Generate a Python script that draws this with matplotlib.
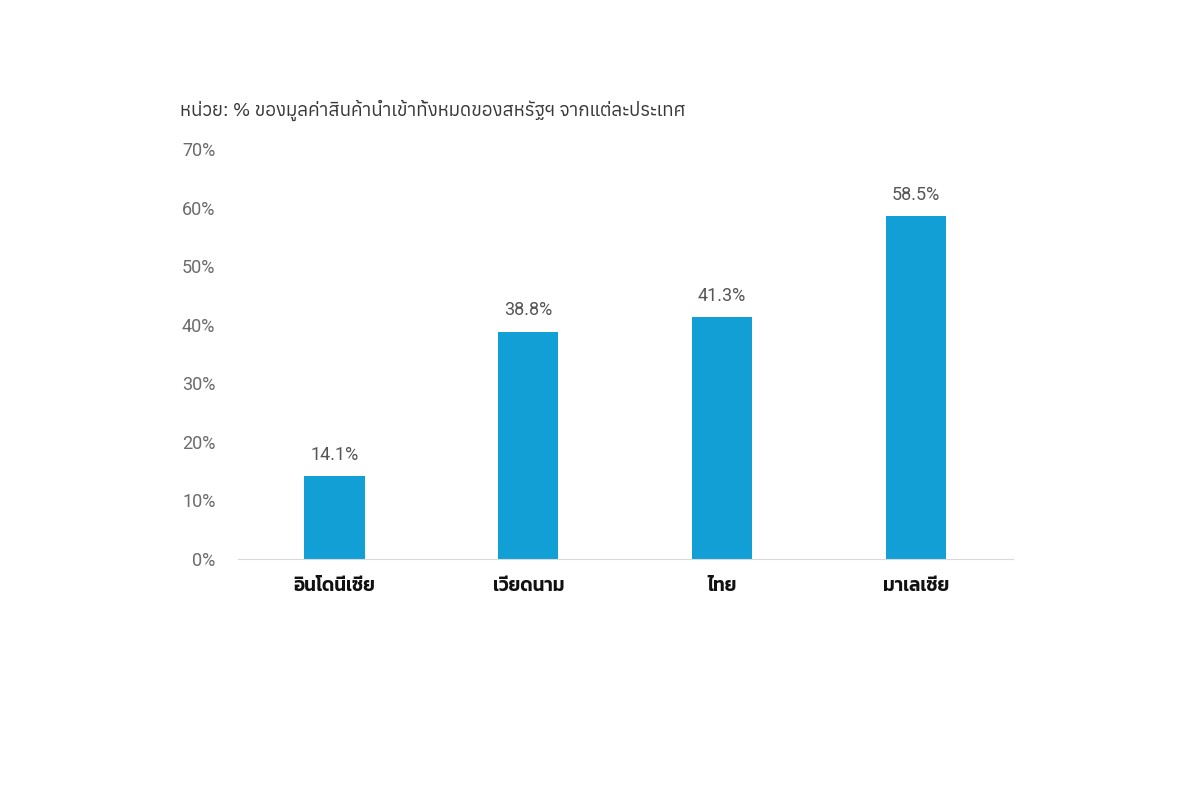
import matplotlib
matplotlib.use("Agg")
import matplotlib.pyplot as plt
from matplotlib import font_manager

categories = ["อินโดนีเซีย", "เวียดนาม", "ไทย", "มาเลเซีย"]
values = [14.1, 38.8, 41.3, 58.5]
yticks = [0, 10, 20, 30, 40, 50, 60, 70]
title = "หน่วย: % ของมูลค่าสินค้านำเข้าทั้งหมดของสหรัฐฯ จากแต่ละประเทศ"

available = {f.name for f in font_manager.fontManager.ttflist}
label_fam = [n for n in ["Kanit", "Anuphan", "Noto Sans Thai"] if n in available][:1] + ["DejaVu Sans"]
title_fam = [n for n in ["Anuphan", "Kanit", "Noto Sans Thai"] if n in available][:1] + ["DejaVu Sans"]

plt.rcParams["font.family"] = ["Roboto", "DejaVu Sans"]

fig = plt.figure(figsize=(12, 8), dpi=100)
ax = fig.add_axes([0.198, 0.30125, 0.646, 0.5125])
x = range(len(categories))
bars = ax.bar(x, values, width=0.31, color="#119FD6")
ax.set_xlim(-0.5, 3.5)
ax.set_ylim(0, 70)
ax.set_yticks(yticks)
ax.set_yticklabels([f"{v}%" for v in yticks], color="#6B6B6B", fontsize=13)
ax.set_xticks(list(x))
ax.set_xticklabels(categories, family=label_fam, fontweight=600, fontsize=13.5, color="#111111")
ax.tick_params(axis="y", length=0, pad=16)
ax.tick_params(axis="x", length=0, pad=14)
for s in ["top", "right", "left"]:
    ax.spines[s].set_visible(False)
ax.spines["bottom"].set_color("#D9D9D9")
for b, v in zip(bars, values):
    ax.annotate(f"{v}%", (b.get_x() + b.get_width() / 2, v), xytext=(0, 9),
                textcoords="offset points", ha="center", va="bottom",
                fontsize=13, color="#555555")
fig.text(0.15, 0.862, title, family=title_fam, fontsize=13.5, color="#383838", va="center")
fig.savefig("out.png", dpi=100, facecolor="white")
